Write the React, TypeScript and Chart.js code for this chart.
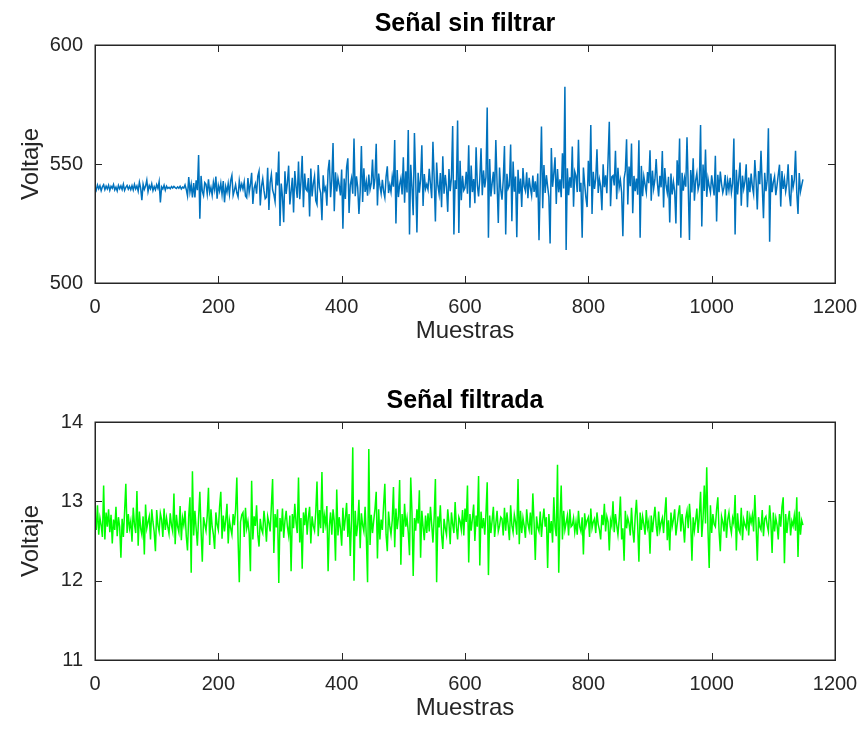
import React, { useEffect, useRef } from 'react';
import { Chart, registerables } from 'chart.js';

Chart.register(...registerables);

// ---- data (one value every 2 samples) ----
const PASO_MUESTRAS = 2;

const tituloSuperior = 'Señal sin filtrar';
const tituloInferior = 'Señal filtrada';
const etiquetaX = 'Muestras';
const etiquetaY = 'Voltaje';

const ejeX = { min: 0, max: 1200, paso: 200 };
const ejeYSuperior = { min: 500, max: 600, paso: 50 };
const ejeYInferior = { min: 11, max: 14, paso: 1 };

const senalSinFiltrar = [
  540.5, 539.0, 541.2, 539.6, 540.9, 538.8, 540.4, 541.3, 539.2, 540.7, 539.5, 541.1, 538.9, 540.6, 539.8, 541.4, 539.1, 540.3, 538.7, 541.0, 539.6, 540.8, 539.3, 541.5, 538.9, 540.2, 541.0, 539.4, 540.6, 539.2,
  540.9, 539.1, 541.4, 539.5, 540.8, 538.6, 542.4, 539.9, 534.8, 541.5, 539.3, 540.7, 543.2, 538.4, 540.9, 539.6, 541.7, 538.8, 540.5, 539.2, 541.3, 539.8, 542.6, 533.8, 540.4, 539.5, 541.1, 539.0, 540.7, 539.8,
  540.2, 539.6, 540.5, 539.9, 540.6, 540.1, 539.7, 540.4, 539.8, 540.6, 539.5, 540.3, 539.9, 541.2, 539.3, 536.6, 544.5, 538.2, 541.4, 536.0, 542.0, 535.9, 543.1, 539.0, 553.8, 527.0, 545.0, 538.6, 536.8, 542.2,
  541.5, 537.4, 543.6, 538.0, 540.2, 536.9, 542.3, 539.2, 544.7, 535.4, 541.0, 538.6, 541.9, 537.2, 542.8, 533.9, 540.5, 538.1, 541.8, 537.3, 543.0, 545.2, 536.8, 538.9, 541.3, 537.9, 536.2, 543.0, 539.5, 541.6,
  539.4, 542.5, 536.6, 535.8, 544.1, 538.0, 541.3, 546.3, 533.2, 539.8, 541.7, 537.5, 544.9, 547.0, 532.6, 540.6, 543.8, 538.9, 535.4, 536.0, 548.4, 530.7, 542.1, 545.6, 539.1, 537.2, 534.2, 546.5, 541.0, 555.2,
  524.0, 541.8, 536.3, 525.5, 546.9, 537.4, 542.1, 549.3, 533.0, 538.5, 544.2, 529.6, 547.0, 540.5, 535.8, 551.0, 535.2, 542.6, 553.4, 531.8, 546.0, 539.4, 538.7, 544.1, 527.9, 548.1, 536.4, 541.7, 544.9, 534.6,
  533.0, 549.6, 540.1, 537.8, 526.4, 545.3, 538.9, 540.2, 532.5, 547.4, 551.8, 536.0, 543.1, 558.8, 530.2, 546.5, 538.5, 544.0, 541.0, 536.8, 547.7, 522.8, 543.9, 535.3, 548.6, 552.4, 529.4, 541.2, 544.0, 537.5,
  560.7, 536.5, 544.8, 540.2, 529.0, 538.3, 557.6, 534.0, 548.2, 538.3, 542.5, 536.7, 545.6, 539.2, 541.8, 551.9, 539.4, 544.0, 558.5, 532.6, 546.0, 540.8, 537.6, 543.4, 538.5, 535.9, 544.6, 549.0, 537.8, 541.2,
  538.2, 544.6, 540.5, 560.1, 525.0, 547.5, 536.1, 541.3, 544.0, 537.2, 552.8, 533.7, 546.9, 538.0, 564.3, 520.4, 549.7, 540.2, 528.5, 563.0, 544.1, 521.2, 546.3, 537.9, 543.5, 557.9, 532.4, 545.8, 539.6, 541.4,
  539.3, 548.0, 541.6, 535.6, 559.3, 544.0, 525.8, 550.6, 541.0, 537.4, 546.2, 531.8, 553.2, 537.5, 545.4, 540.3, 529.9, 547.9, 538.6, 544.1, 566.0, 520.4, 543.2, 539.5, 568.3, 521.0, 551.4, 534.8, 545.0, 538.9,
  540.0, 546.7, 537.5, 557.9, 531.6, 549.4, 538.2, 543.7, 533.5, 557.0, 541.1, 536.4, 543.8, 556.6, 536.9, 547.3, 540.2, 544.5, 573.7, 519.0, 552.1, 536.4, 541.9, 546.7, 537.3, 560.1, 542.0, 525.2, 548.5, 539.2,
  535.0, 543.3, 557.6, 520.4, 545.9, 539.7, 541.0, 558.2, 526.0, 551.0, 538.4, 544.7, 519.2, 547.6, 537.5, 543.9, 531.9, 548.3, 540.6, 538.7, 546.5, 535.6, 544.2, 540.0, 536.8, 545.1, 538.3, 542.7, 535.9, 546.0,
  518.0, 542.0, 565.7, 531.4, 549.6, 537.8, 545.3, 540.6, 536.2, 516.6, 556.7, 540.4, 546.0, 552.8, 533.2, 547.9, 538.1, 543.6, 536.0, 554.5, 539.7, 582.5, 513.9, 548.2, 536.9, 544.4, 540.0, 557.3, 532.0, 546.8,
  545.0, 538.2, 560.2, 538.4, 542.1, 519.0, 548.5, 541.6, 536.0, 531.9, 551.4, 540.7, 566.4, 529.0, 546.7, 539.5, 543.8, 556.2, 537.8, 543.5, 540.6, 530.6, 549.9, 540.3, 545.2, 537.7, 552.0, 567.7, 532.3, 544.6,
  545.1, 541.0, 555.6, 535.2, 548.4, 540.1, 543.2, 538.0, 519.7, 543.8, 547.1, 560.4, 533.0, 548.9, 540.7, 558.6, 529.3, 545.0, 538.6, 543.9, 537.1, 560.0, 519.0, 549.2, 536.5, 544.7, 541.3, 538.0, 546.6, 541.9,
  555.8, 534.6, 547.2, 539.7, 543.5, 552.1, 542.0, 536.4, 545.0, 540.2, 555.5, 531.7, 548.3, 541.1, 537.9, 544.6, 525.4, 546.0, 537.2, 542.5, 538.6, 525.0, 551.6, 541.0, 560.7, 519.0, 546.3, 538.8, 544.1, 540.5,
  561.2, 540.6, 518.1, 547.5, 538.0, 552.4, 534.6, 543.0, 546.1, 539.2, 541.5, 566.4, 523.7, 549.8, 538.7, 556.1, 536.2, 543.9, 540.5, 538.0, 545.2, 540.9, 536.8, 553.5, 525.8, 545.5, 538.1, 546.8, 541.7, 537.9,
  540.2, 545.4, 536.8, 543.0, 539.1, 544.2, 538.0, 541.9, 560.7, 520.4, 547.6, 537.2, 543.8, 550.6, 532.5, 545.1, 539.6, 542.7, 549.9, 531.8, 544.3, 538.2, 546.0, 540.5, 537.4, 551.7, 543.1, 530.9, 547.0, 541.5,
  555.6, 541.0, 527.2, 546.3, 538.6, 543.1, 565.0, 517.3, 546.0, 538.2, 542.4, 544.8, 536.9, 541.0, 545.5, 549.7, 532.1, 547.0, 539.5, 543.6, 538.4, 541.8, 549.9, 537.0, 532.3, 545.4, 540.1, 543.3, 555.6, 538.0,
  529.0, 546.2, 538.4, 541.0, 543.5,
];

const senalFiltrada = [
  12.82, 12.64, 12.95, 12.58, 12.79, 12.70, 12.55, 13.20, 12.52, 12.86, 12.68, 12.90, 12.61, 12.83, 12.47, 12.77, 12.64, 12.93, 12.56, 12.80, 12.68, 12.29, 12.78, 12.55, 12.87, 13.22, 12.60, 12.84, 12.66, 12.75,
  12.49, 12.92, 12.71, 12.60, 13.13, 12.44, 12.87, 12.66, 12.58, 12.81, 12.33, 12.96, 12.66, 12.74, 12.81, 12.52, 12.90, 12.74, 12.61, 12.37, 12.89, 12.70, 12.62, 12.85, 12.77, 12.55, 12.91, 12.64, 12.79, 12.68,
  12.59, 12.85, 12.70, 12.62, 13.10, 12.46, 12.83, 12.68, 12.61, 12.94, 12.51, 12.79, 12.70, 12.88, 12.56, 12.38, 12.82, 13.05, 12.10, 13.38, 12.57, 12.88, 12.66, 12.44, 12.80, 13.12, 12.63, 12.24, 12.80, 12.71,
  12.63, 12.82, 13.17, 12.45, 12.90, 12.68, 12.58, 12.40, 12.86, 12.71, 12.64, 12.93, 13.12, 12.53, 12.82, 12.62, 12.77, 12.97, 12.47, 12.76, 12.66, 12.58, 12.84, 12.70, 12.90, 13.30, 12.52, 11.98, 12.74, 12.83,
  12.86, 12.55, 12.92, 12.66, 12.75, 12.60, 12.12, 13.26, 12.52, 12.81, 12.69, 12.95, 12.58, 12.43, 12.78, 12.65, 12.60, 12.88, 12.72, 12.49, 12.81, 12.73, 12.62, 12.94, 13.28, 12.35, 12.84, 12.67, 12.90, 11.97,
  12.79, 12.62, 12.91, 12.54, 12.75, 12.88, 12.68, 12.57, 12.82, 12.12, 12.84, 12.66, 12.97, 12.73, 12.60, 13.30, 12.48, 12.79, 12.15, 12.86, 12.70, 12.92, 12.58, 12.80, 12.93, 12.47, 12.81, 12.69, 12.63, 12.87,
  13.25, 12.56, 12.89, 12.66, 13.37, 12.60, 12.82, 12.71, 12.94, 12.12, 12.69, 12.86, 12.58, 12.90, 12.75, 12.25, 13.15, 12.57, 12.80, 12.66, 12.44, 12.92, 12.63, 12.79, 12.98, 12.55, 12.84, 12.31, 12.77, 13.68,
  12.00, 12.88, 12.56, 12.71, 13.02, 12.41, 12.85, 12.70, 12.62, 12.93, 12.54, 11.98, 13.66, 12.45, 12.83, 12.60, 12.76, 12.90, 13.12, 12.28, 12.90, 12.52, 12.77, 12.64, 12.95, 13.22, 12.58, 12.37, 12.87, 12.69,
  12.58, 12.76, 13.18, 12.42, 12.91, 12.65, 12.80, 13.27, 12.20, 12.84, 12.55, 12.97, 12.68, 12.79, 12.61, 12.32, 13.30, 12.86, 12.06, 12.79, 12.63, 12.90, 12.72, 13.14, 12.29, 12.88, 12.68, 12.51, 12.82, 12.60,
  12.85, 12.62, 12.93, 12.71, 12.48, 12.80, 13.28, 11.98, 12.81, 12.67, 12.95, 12.58, 12.40, 12.78, 12.66, 12.58, 12.90, 12.73, 12.46, 12.86, 12.71, 12.60, 12.99, 12.68, 12.52, 12.80, 12.75, 12.64, 12.89, 12.57,
  12.91, 12.74, 13.20, 12.23, 12.84, 12.63, 12.78, 12.96, 12.50, 12.82, 12.68, 13.32, 12.19, 12.87, 12.66, 12.79, 12.58, 12.85, 13.24, 12.07, 12.82, 12.60, 12.76, 12.93, 12.55, 12.72, 12.88, 12.62, 12.69, 12.80,
  12.78, 12.57, 12.92, 12.63, 12.86, 12.70, 12.51, 12.95, 12.70, 12.61, 12.83, 12.74, 12.58, 13.28, 12.46, 12.88, 12.60, 12.79, 12.69, 12.54, 12.90, 12.72, 12.64, 12.86, 12.58, 13.10, 12.74, 12.26, 12.81, 12.67,
  12.62, 12.87, 12.55, 12.76, 12.91, 12.68, 12.80, 12.16, 12.84, 12.60, 12.75, 12.48, 13.05, 12.68, 12.56, 13.46, 12.10, 12.78, 13.20, 12.52, 12.88, 12.64, 12.73, 12.82, 12.57, 12.90, 12.68, 12.70, 12.79, 12.61,
  12.74, 12.58, 12.88, 12.68, 12.62, 12.80, 12.33, 12.85, 12.69, 12.76, 12.80, 12.55, 12.91, 12.66, 12.74, 12.78, 12.60, 12.86, 12.71, 12.64, 12.52, 12.83, 12.70, 12.97, 12.62, 12.81, 12.74, 12.38, 12.76, 12.69,
  13.00, 12.61, 12.84, 12.70, 12.58, 12.77, 13.06, 12.52, 12.66, 12.25, 12.88, 12.66, 12.79, 12.72, 12.57, 12.92, 12.64, 12.48, 12.81, 13.02, 12.70, 12.24, 12.86, 12.64, 12.81, 12.71, 12.58, 12.89, 12.67, 12.75,
  12.34, 12.82, 12.61, 12.78, 12.93, 12.70, 12.56, 12.87, 12.64, 12.73, 12.79, 12.60, 12.85, 13.05, 12.51, 12.76, 12.38, 12.86, 12.68, 12.77, 12.90, 12.57, 12.71, 12.84, 12.95, 12.62, 12.84, 12.70, 12.48, 12.79,
  12.88, 12.66, 12.97, 12.74, 12.25, 12.80, 12.63, 12.76, 12.91, 12.60, 12.82, 13.12, 12.55, 12.78, 13.20, 12.72, 13.43, 12.64, 12.16, 12.95, 12.60, 12.84, 12.71, 12.68, 12.90, 13.05, 12.62, 12.37, 12.81, 12.74,
  12.62, 12.90, 12.54, 12.77, 12.86, 12.69, 12.60, 12.79, 12.72, 13.08, 12.38, 12.85, 12.64, 12.60, 12.92, 12.51, 12.77, 12.70, 12.66, 12.88, 12.57, 12.81, 12.73, 12.83, 12.62, 13.08, 12.70, 12.25, 12.80, 12.68,
  12.64, 12.89, 12.56, 12.78, 12.81, 12.70, 12.62, 12.95, 12.74, 12.35, 12.86, 12.62, 12.79, 12.70, 12.52, 12.84, 12.68, 12.93, 13.05, 12.22, 12.84, 12.60, 12.77, 12.88, 12.57, 12.75, 12.69, 12.82, 12.63, 13.05,
  12.30, 12.87, 12.58, 12.76, 12.70,
];

// ---- styling ----
const COLOR_EJES = '#262626';
const COLOR_AZUL = '#0072BD';
const COLOR_VERDE = '#00FF00';
const FUENTE = '"Liberation Sans", Arial, Helvetica, sans-serif';
const LARGO_TICK = 7;

const matlabAxesPlugin = {
  id: 'matlabAxes',
  afterDatasetsDraw(chart: any) {
    const { ctx, chartArea } = chart;
    const { left, right, top, bottom } = chartArea;
    const x = chart.scales.x;
    const y = chart.scales.y;
    ctx.save();
    ctx.strokeStyle = COLOR_EJES;
    ctx.lineWidth = 1;
    ctx.beginPath();
    x.ticks.forEach((t: any) => {
      const px = Math.round(x.getPixelForValue(t.value)) + 0.5;
      ctx.moveTo(px, bottom);
      ctx.lineTo(px, bottom - LARGO_TICK);
      ctx.moveTo(px, top);
      ctx.lineTo(px, top + LARGO_TICK);
    });
    y.ticks.forEach((t: any) => {
      const py = Math.round(y.getPixelForValue(t.value)) + 0.5;
      ctx.moveTo(left, py);
      ctx.lineTo(left + LARGO_TICK, py);
      ctx.moveTo(right, py);
      ctx.lineTo(right - LARGO_TICK, py);
    });
    ctx.stroke();
    ctx.lineWidth = 1.5;
    ctx.strokeRect(left + 0.25, top + 0.25, right - left, bottom - top);
    ctx.restore();
  },
};

function crearConfig(valores: number[], color: string, titulo: string, ejeY: { min: number; max: number; paso: number }) {
  const puntos = valores.map((v, i) => ({ x: i * PASO_MUESTRAS, y: v }));
  return {
    type: 'line',
    data: {
      datasets: [
        {
          data: puntos,
          borderColor: color,
          borderWidth: 1.5,
          pointRadius: 0,
          tension: 0,
          fill: false,
          xAxisID: 'x',
          yAxisID: 'y',
        },
      ],
    },
    options: {
      animation: false,
      responsive: false,
      events: [],
      layout: { padding: { left: 0, right: 30, top: 0, bottom: 0 } },
      plugins: {
        legend: { display: false },
        tooltip: { enabled: false },
        title: { display: false },
      },
      scales: {
        titulo: {
          type: 'linear',
          position: 'top',
          axis: 'x',
          min: ejeX.min,
          max: ejeX.max,
          afterFit: (s: any) => { s.height = 45; s.paddingLeft = 0; s.paddingRight = 0; },
          grid: { display: false, drawTicks: false },
          border: { display: false },
          ticks: { display: false },
          title: {
            display: true,
            text: titulo,
            color: '#000000',
            font: { family: FUENTE, size: 25, weight: 'bold', lineHeight: 1.2 },
            padding: { top: 9, bottom: 0 },
          },
        },
        x: {
          type: 'linear',
          position: 'bottom',
          min: ejeX.min,
          max: ejeX.max,
          afterFit: (s: any) => { s.height = 71; s.paddingLeft = 0; s.paddingRight = 0; },
          grid: { display: false, drawTicks: false },
          border: { display: false },
          ticks: {
            stepSize: ejeX.paso,
            color: COLOR_EJES,
            font: { family: FUENTE, size: 20 },
            padding: 12,
            maxRotation: 0,
            autoSkip: false,
            callback: (v: any) => String(v),
          },
          title: {
            display: true,
            text: etiquetaX,
            color: COLOR_EJES,
            font: { family: FUENTE, size: 24, lineHeight: 1.2 },
            padding: { top: 0, bottom: 8 },
          },
        },
        y: {
          type: 'linear',
          position: 'left',
          min: ejeY.min,
          max: ejeY.max,
          afterFit: (s: any) => { s.width = 95; },
          grid: { display: false, drawTicks: false },
          border: { display: false },
          ticks: {
            stepSize: ejeY.paso,
            color: COLOR_EJES,
            font: { family: FUENTE, size: 20 },
            padding: 12,
            callback: (v: any) => String(v),
          },
          title: {
            display: true,
            text: etiquetaY,
            color: COLOR_EJES,
            font: { family: FUENTE, size: 24, lineHeight: 1.2 },
            padding: { top: 17, bottom: 0 },
          },
        },
      },
    },
    plugins: [matlabAxesPlugin],
  } as any;
}

function Grafico({ valores, color, titulo, ejeY, top }: any) {
  const ref = useRef<HTMLCanvasElement | null>(null);
  useEffect(() => {
    if (!ref.current) return;
    const chart = new Chart(ref.current, crearConfig(valores, color, titulo, ejeY));
    return () => chart.destroy();
  }, [valores, color, titulo, ejeY]);
  return (
    <canvas
      ref={ref}
      width={865}
      height={354}
      style={{ position: 'absolute', left: 0, top, width: 865, height: 354, display: 'block' }}
    />
  );
}

export default function App() {
  return (
    <div style={{ position: 'fixed', left: 0, top: 0, width: 865, height: 731, background: '#ffffff', overflow: 'hidden' }}>
      <Grafico valores={senalSinFiltrar} color={COLOR_AZUL} titulo={tituloSuperior} ejeY={ejeYSuperior} top={0} />
      <Grafico valores={senalFiltrada} color={COLOR_VERDE} titulo={tituloInferior} ejeY={ejeYInferior} top={377} />
    </div>
  );
}
